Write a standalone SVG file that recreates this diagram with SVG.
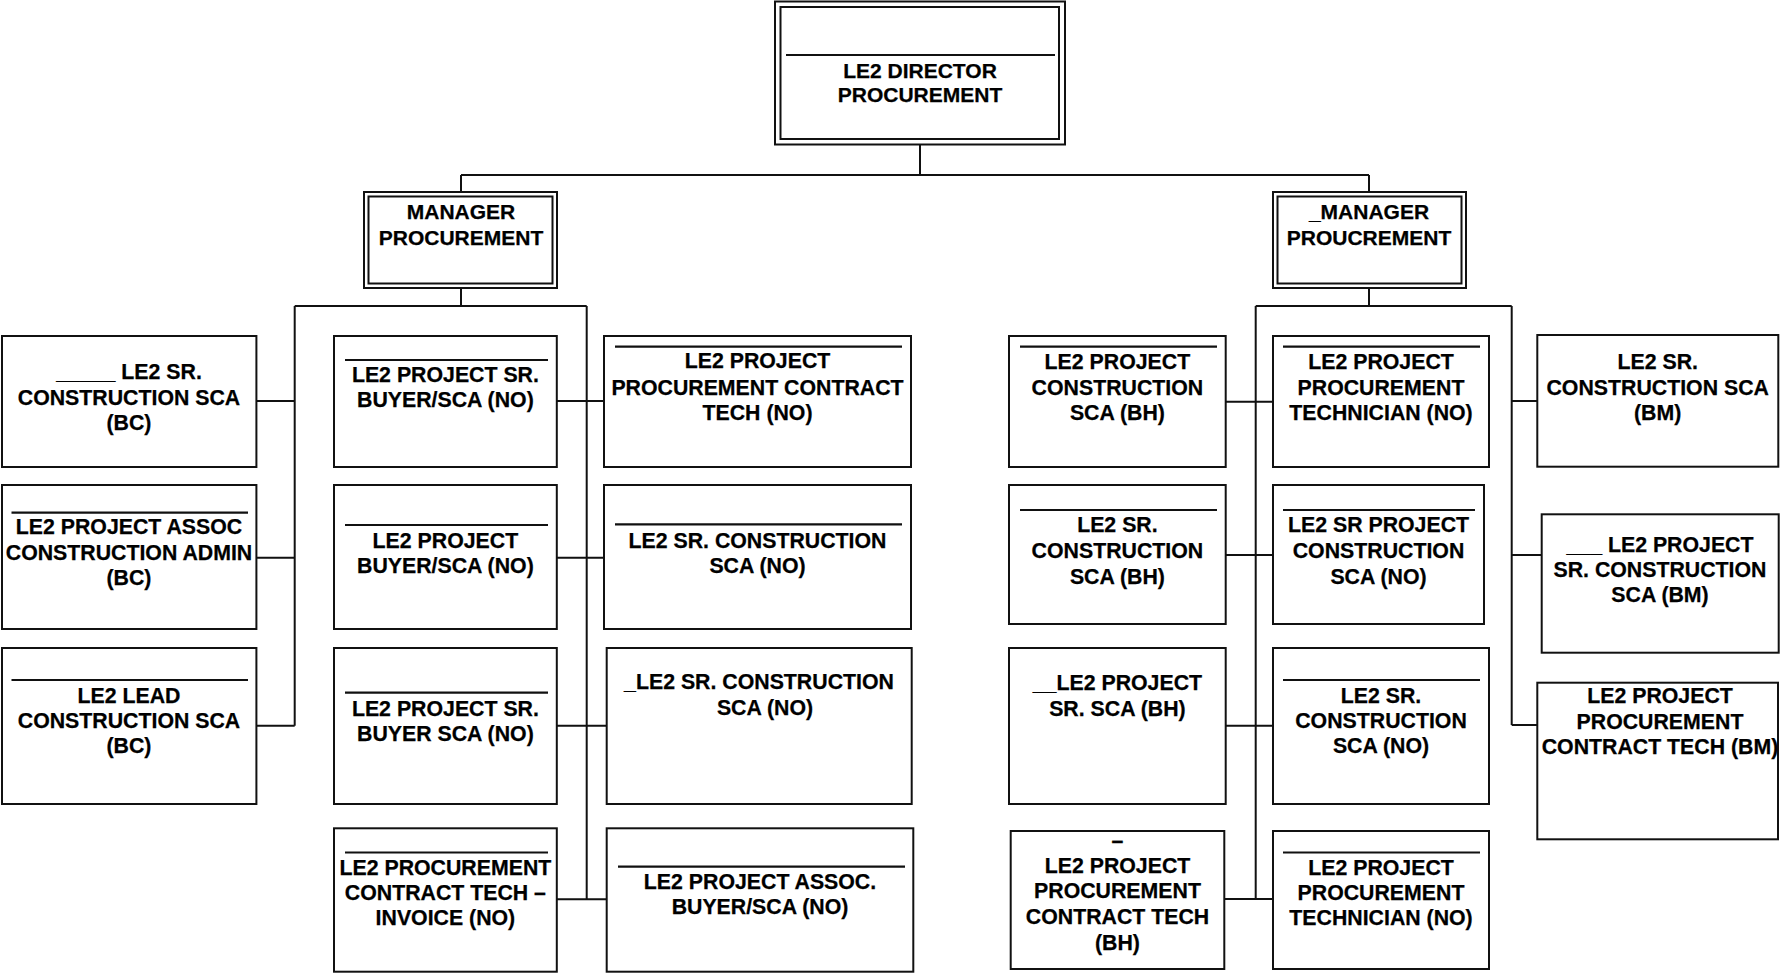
<svg xmlns="http://www.w3.org/2000/svg" width="1780" height="973" viewBox="0 0 1780 973">
<style>
.bg{fill:#fff}
.box{fill:#fff;stroke:#111;stroke-width:2}
.rule{stroke:#111;stroke-width:2.2}
.conn{stroke:#111;stroke-width:2;fill:none}
.t{font-family:"Liberation Sans",Arial,sans-serif;font-weight:bold;font-size:21.3px;text-anchor:middle;fill:#000;stroke:#000;stroke-width:0.25}
.tm{font-size:21px}
.td{font-size:21px}
</style>
<rect class="bg" x="0" y="0" width="1780" height="973"/>
<g id="connectors">
<path class="conn" d="M920,145 V175 M461,175 H1369 M461,175 V192 M1369,175 V192"/>
<path class="conn" d="M461,288 V306 M294.7,306 H586.7 M294.7,306 V725.7 M586.7,306 V899.3"/>
<path class="conn" d="M256.4,401 H294.7 M256.4,557.7 H294.7 M256.4,725.7 H294.7"/>
<path class="conn" d="M556.8,401 H604 M556.8,557.7 H604 M556.8,725.7 H606.7 M556.8,899.3 H606.7"/>
<path class="conn" d="M1369,288 V306 M1255.7,306 H1511.7 M1255.7,306 V899 M1511.7,306 V725"/>
<path class="conn" d="M1225.7,401.7 H1273 M1225.7,555 H1273 M1225.7,725.7 H1273 M1224.3,899 H1273"/>
<path class="conn" d="M1511.7,401 H1537.3 M1511.7,555 H1541.7 M1511.7,725 H1537.3"/>
</g>
<g id="director">
<rect class="box" x="775" y="1.5" width="290" height="143"/>
<rect class="box" x="780.5" y="7" width="278.5" height="132"/>
<line class="rule" x1="786" y1="55" x2="1055" y2="55"/>
<text class="t td" x="920" y="78">LE2 DIRECTOR</text>
<text class="t td" x="920" y="102">PROCUREMENT</text>
</g>
<g id="manager-left">
<rect class="box" x="364" y="192" width="193" height="96"/>
<rect class="box" x="368.5" y="196.5" width="184" height="87"/>
<text class="t tm" x="461" y="219">MANAGER</text>
<text class="t tm" x="461" y="245">PROCUREMENT</text>
</g>
<g id="manager-right">
<rect class="box" x="1273" y="192" width="193" height="96"/>
<rect class="box" x="1277.5" y="196.5" width="184" height="87"/>
<text class="t tm" x="1369" y="219">_MANAGER</text>
<text class="t tm" x="1369" y="245">PROUCREMENT</text>
</g>
<g id="l1">
<rect class="box" x="2" y="336" width="254.4" height="131"/>
<text class="t" x="129" y="379">_____ LE2 SR.</text>
<text class="t" x="129" y="405">CONSTRUCTION SCA</text>
<text class="t" x="129" y="430">(BC)</text>
</g>
<g id="l2">
<rect class="box" x="2" y="485" width="254.4" height="144"/>
<line class="rule" x1="11.5" y1="512.7" x2="248" y2="512.7"/>
<text class="t" x="129" y="534">LE2 PROJECT ASSOC</text>
<text class="t" x="129" y="559.5">CONSTRUCTION ADMIN</text>
<text class="t" x="129" y="585">(BC)</text>
</g>
<g id="l3">
<rect class="box" x="2" y="648" width="254.4" height="156"/>
<line class="rule" x1="11.5" y1="680" x2="248" y2="680"/>
<text class="t" x="129" y="702.7">LE2 LEAD</text>
<text class="t" x="129" y="727.7">CONSTRUCTION SCA</text>
<text class="t" x="129" y="753.3">(BC)</text>
</g>
<g id="m1">
<rect class="box" x="334" y="336" width="222.8" height="131"/>
<line class="rule" x1="345" y1="360" x2="548" y2="360"/>
<text class="t" x="445.4" y="381.7">LE2 PROJECT SR.</text>
<text class="t" x="445.4" y="406.7">BUYER/SCA (NO)</text>
</g>
<g id="m2">
<rect class="box" x="334" y="485" width="222.8" height="144"/>
<line class="rule" x1="345" y1="525" x2="548" y2="525"/>
<text class="t" x="445.4" y="548.3">LE2 PROJECT</text>
<text class="t" x="445.4" y="572.7">BUYER/SCA (NO)</text>
</g>
<g id="m3">
<rect class="box" x="334" y="648" width="222.8" height="156"/>
<line class="rule" x1="345" y1="692.7" x2="548" y2="692.7"/>
<text class="t" x="445.4" y="716">LE2 PROJECT SR.</text>
<text class="t" x="445.4" y="741">BUYER SCA (NO)</text>
</g>
<g id="m4">
<rect class="box" x="334" y="828.3" width="222.8" height="143.4"/>
<line class="rule" x1="345" y1="852.5" x2="548" y2="852.5"/>
<text class="t" x="445.4" y="875">LE2 PROCUREMENT</text>
<text class="t" x="445.4" y="900">CONTRACT TECH –</text>
<text class="t" x="445.4" y="925">INVOICE (NO)</text>
</g>
<g id="r1">
<rect class="box" x="604" y="336" width="307" height="131"/>
<line class="rule" x1="615" y1="346.7" x2="902" y2="346.7"/>
<text class="t" x="757.5" y="368.3">LE2 PROJECT</text>
<text class="t" x="757.5" y="394.5">PROCUREMENT CONTRACT</text>
<text class="t" x="757.5" y="420">TECH (NO)</text>
</g>
<g id="r2">
<rect class="box" x="604" y="485" width="307" height="144"/>
<line class="rule" x1="615" y1="524.3" x2="902" y2="524.3"/>
<text class="t" x="757.5" y="548.3">LE2 SR. CONSTRUCTION</text>
<text class="t" x="757.5" y="573.3">SCA (NO)</text>
</g>
<g id="r3">
<rect class="box" x="606.7" y="648" width="305" height="156"/>
<text class="t" x="759" y="689">_LE2 SR. CONSTRUCTION</text>
<text class="t" x="765" y="714.5">SCA (NO)</text>
</g>
<g id="r4">
<rect class="box" x="606.7" y="828.3" width="306.6" height="143.4"/>
<line class="rule" x1="618" y1="866.7" x2="905" y2="866.7"/>
<text class="t" x="760" y="888.5">LE2 PROJECT ASSOC.</text>
<text class="t" x="760" y="914">BUYER/SCA (NO)</text>
</g>
<g id="a1">
<rect class="box" x="1009" y="336" width="216.7" height="131"/>
<line class="rule" x1="1020" y1="346.7" x2="1217" y2="346.7"/>
<text class="t" x="1117.4" y="369">LE2 PROJECT</text>
<text class="t" x="1117.4" y="395">CONSTRUCTION</text>
<text class="t" x="1117.4" y="420">SCA (BH)</text>
</g>
<g id="a2">
<rect class="box" x="1009" y="485" width="216.7" height="139"/>
<line class="rule" x1="1020" y1="510" x2="1217" y2="510"/>
<text class="t" x="1117.4" y="532">LE2 SR.</text>
<text class="t" x="1117.4" y="558">CONSTRUCTION</text>
<text class="t" x="1117.4" y="584">SCA (BH)</text>
</g>
<g id="a3">
<rect class="box" x="1009" y="648" width="216.7" height="156"/>
<text class="t" x="1117.4" y="690">__LE2 PROJECT</text>
<text class="t" x="1117.4" y="716">SR. SCA (BH)</text>
</g>
<g id="a4">
<rect class="box" x="1010.7" y="831" width="213.6" height="138"/>
<text class="t" x="1117.5" y="848">–</text>
<text class="t" x="1117.5" y="873.3">LE2 PROJECT</text>
<text class="t" x="1117.5" y="898.3">PROCUREMENT</text>
<text class="t" x="1117.5" y="924">CONTRACT TECH</text>
<text class="t" x="1117.5" y="950">(BH)</text>
</g>
<g id="b1">
<rect class="box" x="1273" y="336" width="216" height="131"/>
<line class="rule" x1="1283" y1="346.7" x2="1480" y2="346.7"/>
<text class="t" x="1381" y="369">LE2 PROJECT</text>
<text class="t" x="1381" y="395">PROCUREMENT</text>
<text class="t" x="1381" y="420">TECHNICIAN (NO)</text>
</g>
<g id="b2">
<rect class="box" x="1273" y="485" width="211" height="139"/>
<line class="rule" x1="1283" y1="510" x2="1475" y2="510"/>
<text class="t" x="1378.5" y="532">LE2 SR PROJECT</text>
<text class="t" x="1378.5" y="558">CONSTRUCTION</text>
<text class="t" x="1378.5" y="584">SCA (NO)</text>
</g>
<g id="b3">
<rect class="box" x="1273" y="648" width="216" height="156"/>
<line class="rule" x1="1283" y1="680" x2="1480" y2="680"/>
<text class="t" x="1381" y="702.7">LE2 SR.</text>
<text class="t" x="1381" y="727.7">CONSTRUCTION</text>
<text class="t" x="1381" y="753">SCA (NO)</text>
</g>
<g id="b4">
<rect class="box" x="1273" y="831" width="216" height="138"/>
<line class="rule" x1="1283" y1="852.5" x2="1480" y2="852.5"/>
<text class="t" x="1381" y="875">LE2 PROJECT</text>
<text class="t" x="1381" y="900">PROCUREMENT</text>
<text class="t" x="1381" y="925">TECHNICIAN (NO)</text>
</g>
<g id="c1">
<rect class="box" x="1537.3" y="335" width="241" height="131.7"/>
<text class="t" x="1657.7" y="369">LE2 SR.</text>
<text class="t" x="1657.7" y="395">CONSTRUCTION SCA</text>
<text class="t" x="1657.7" y="420">(BM)</text>
</g>
<g id="c2">
<rect class="box" x="1541.7" y="514.3" width="237" height="138.4"/>
<text class="t" x="1660" y="551.7">___ LE2 PROJECT</text>
<text class="t" x="1660" y="576.7">SR. CONSTRUCTION</text>
<text class="t" x="1660" y="601.7">SCA (BM)</text>
</g>
<g id="c3">
<rect class="box" x="1537.3" y="682.7" width="240.7" height="156.6"/>
<text class="t" x="1660" y="703.3">LE2 PROJECT</text>
<text class="t" x="1660" y="728.5">PROCUREMENT</text>
<text class="t" x="1660" y="754">CONTRACT TECH (BM)</text>
</g>
</svg>
